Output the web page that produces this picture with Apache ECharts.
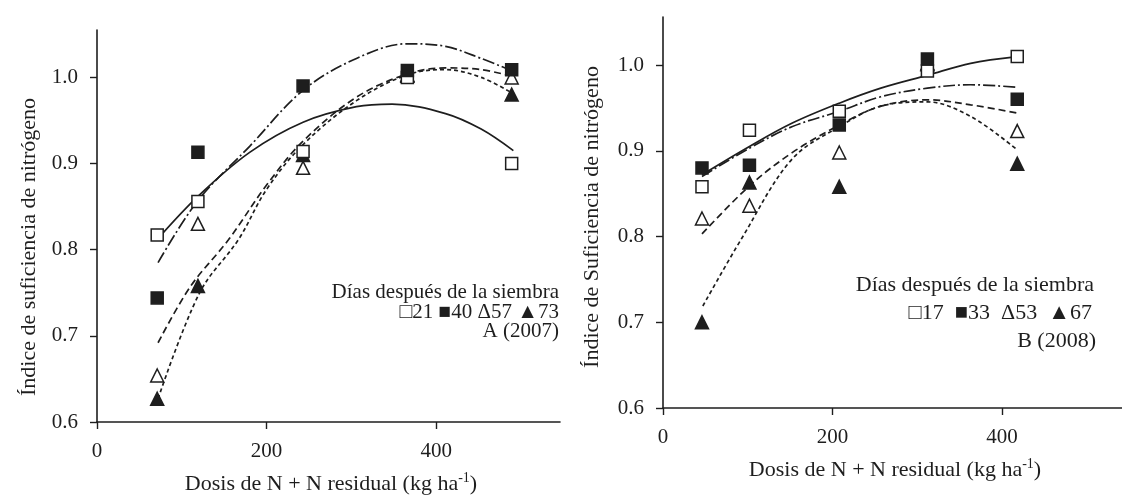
<!DOCTYPE html>
<html><head><meta charset="utf-8">
<script src="https://cdn.jsdelivr.net/npm/echarts@6/dist/echarts.min.js"></script>
<style>html,body{margin:0;padding:0;background:#fff}#c{width:1122px;height:496px}</style>
</head><body><div id="c"></div>
<script>
// ---------- DATA ----------
const doseA = [71, 119, 243, 366, 489];
const A21 = [0.817, 0.856, 0.914, 1.000, 0.900];
const A40 = [0.744, 0.913, 0.990, 1.008, 1.009];
const A57 = [0.654, 0.830, 0.895, 1.002, 1.000];
const A73 = [0.627, 0.758, 0.910, 1.003, 0.980];
// fitted curves [dose, index]
const curveA21 = [[71,0.812],[119,0.862],[180,0.913],[243,0.948],[306,0.966],[348,0.969],[411,0.958],[453,0.940],[491,0.915]];
const curveA40 = [[72,0.785],[119,0.857],[180,0.920],[243,0.985],[306,1.022],[366,1.039],[411,1.036],[453,1.022],[491,1.007]];
const curveA57 = [[72,0.692],[110,0.757],[155,0.8115],[200,0.875],[243,0.926],[306,0.977],[366,1.004],[411,1.011],[453,1.009],[491,1.001]];
const curveA73 = [[72,0.627],[121,0.750],[167,0.812],[200,0.870],[243,0.922],[306,0.973],[366,1.003],[411,1.009],[453,1.000],[491,0.981]];

const doseB = [46, 102, 208, 312, 418];
const B17 = [0.858, 0.924, 0.946, 0.993, 1.010];
const B33 = [0.880, 0.883, 0.930, 1.007, 0.960];
const B53 = [0.821, 0.836, 0.898, 1.001, 0.923];
const B67 = [0.700, 0.863, 0.858, 1.002, 0.885];
const curveB17 = [[46,0.872],[102,0.905],[152,0.932],[208,0.9555],[257,0.973],[312,0.988],[363,1.002],[418,1.0097]];
const curveB33 = [[46,0.870],[102,0.903],[152,0.928],[208,0.946],[257,0.963],[312,0.973],[363,0.977],[418,0.974]];
const curveB53 = [[46,0.803],[102,0.859],[152,0.8975],[208,0.930],[257,0.952],[312,0.9594],[363,0.9536],[418,0.944]];
const curveB67 = [[47,0.719],[93,0.798],[152,0.890],[208,0.928],[257,0.952],[312,0.957],[363,0.940],[418,0.901]];

const xTicks = [0, 200, 400];
const yTicks = [0.6, 0.7, 0.8, 0.9, 1.0];

const legendTitle = 'Días después de la siembra';
const legendA = '\u25A121 \u25A040 \u039457 \u25B273';
const legendB = '\u25A117  \u25A033  \u039453  \u25B267';
const panelA = 'A (2007)';
const panelB = 'B (2008)';
const yTitleA = 'Índice de suficiencia de nitrógeno';
const yTitleB = 'Índice de Suficiencia de nitrógeno';
const xTitle = 'Dosis de N + N residual (kg ha{s|-1})';

// ---------- CHART ----------
const F = '"Liberation Serif","Times New Roman",serif';
const INK = '#1e1e1e';
const chart = echarts.init(document.getElementById('c'));

function xAx(gi, max) {
  return {type:'value', gridIndex:gi, min:0, max:max,
    axisLine:{show:true, onZero:false, lineStyle:{color:INK, width:1.6}},
    axisTick:{show:true, length:7, customValues:xTicks, lineStyle:{color:INK, width:1.4}},
    axisLabel:{customValues:xTicks, fontFamily:F, fontSize:21, color:INK, margin:19},
    splitLine:{show:false}};
}
function yAx(gi, max) {
  return {type:'value', gridIndex:gi, min:0.6, max:max,
    axisLine:{show:true, onZero:false, lineStyle:{color:INK, width:1.6}},
    axisTick:{show:true, length:7, customValues:yTicks, lineStyle:{color:INK, width:1.4}},
    axisLabel:{customValues:yTicks, fontFamily:F, fontSize:21, color:INK, margin:19,
      formatter: v => v.toFixed(1)},
    splitLine:{show:false}};
}
const zip = (xs, ys) => xs.map((x,i)=>[x, ys[i]]);
function pts(gi, xs, ys, symbol, filled) {
  return {type:'scatter', xAxisIndex:gi, yAxisIndex:gi, data:zip(xs,ys), symbol:symbol,
    symbolSize: symbol==='triangle'?13:12, z:5,
    itemStyle:{color: filled?INK:'#fff', borderColor:INK, borderWidth:1.5, opacity:1},
    emphasis:{disabled:true}};
}
function curve(gi, data, type) {
  return {type:'line', xAxisIndex:gi, yAxisIndex:gi, data:data, smooth:0.35, showSymbol:false, z:3,
    lineStyle:{color:INK, width:1.7, type:type}, emphasis:{disabled:true}};
}
const DD = [12,3,2,3], DA = [7,4], DS = [4,3];

function txt(x, y, text, size, align, rot, rich) {
  const el = {type:'text', x:x, y:y, rotation: rot||0, z:10,
    style:{text:text, fill:INK, font: size+'px '+F, align:align, verticalAlign:'middle',
      textAlign:align, textVerticalAlign:'middle'}};
  if (rich) el.style.rich = rich;
  return el;
}
const sup = {s:{fontSize:14, fontFamily:F, fill:INK, verticalAlign:'top', lineHeight:26}};

chart.setOption({
  animation:false,
  backgroundColor:'#fff',
  grid:[{left:97, top:30, width:463, height:392},
        {left:663, top:17, width:459, height:391}],
  xAxis:[xAx(0, 546), xAx(1, 541.6)],
  yAxis:[yAx(0, 1.055), yAx(1, 1.056)],
  series:[
    curve(0, curveA21, 'solid'), curve(0, curveA40, DD), curve(0, curveA57, DA), curve(0, curveA73, DS),
    pts(0, doseA, A57, 'triangle', false), pts(0, doseA, A73, 'triangle', true),
    pts(0, doseA, A21, 'rect', false), pts(0, doseA, A40, 'rect', true),
    curve(1, curveB17, 'solid'), curve(1, curveB33, DD), curve(1, curveB53, DA), curve(1, curveB67, DS),
    pts(1, doseB, B53, 'triangle', false), pts(1, doseB, B67, 'triangle', true),
    pts(1, doseB, B17, 'rect', false), pts(1, doseB, B33, 'rect', true)
  ],
  graphic:[
    txt(29, 247, yTitleA, 22, 'center', Math.PI/2),
    txt(592, 217, yTitleB, 22, 'center', Math.PI/2),
    txt(331, 484, xTitle, 22, 'center', 0, sup),
    txt(895, 470, xTitle, 22, 'center', 0, sup),
    txt(559, 292, legendTitle, 21, 'right'),
    txt(559, 312, legendA, 21, 'right'),
    txt(559, 331, panelA, 21, 'right'),
    txt(1094, 285, legendTitle, 22, 'right'),
    txt(1092, 313, legendB, 22, 'right'),
    txt(1096, 341, panelB, 22, 'right')
  ]
});
</script></body></html>
